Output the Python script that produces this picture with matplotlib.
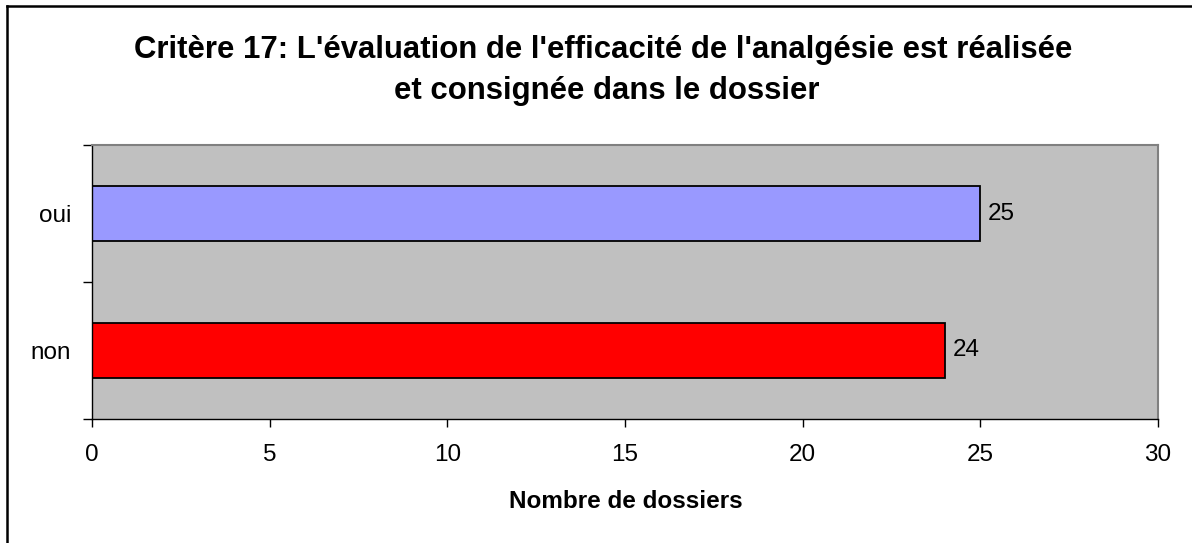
import matplotlib.pyplot as plt
from matplotlib.lines import Line2D
from matplotlib import font_manager as fm

# --- données ---
categories = ["non", "oui"]
values = [24, 25]
bar_colors = ["#FF0000", "#9999FF"]
x_ticks = [0, 5, 10, 15, 20, 25, 30]
title_lines = ["Critère 17: L'évaluation de l'efficacité de l'analgésie est réalisée",
               "et consignée dans le dossier"]

# Liberation Sans (pas la version Narrow)
reg, bold = None, None
for f in fm.fontManager.ttflist:
    fn = f.fname.lower()
    if "liberationsans-regular" in fn:
        reg = f.fname
    if "liberationsans-bold." in fn:
        bold = f.fname
fp_reg = fm.FontProperties(fname=reg) if reg else fm.FontProperties(family="DejaVu Sans")
fp_bold = fm.FontProperties(fname=bold) if bold else fm.FontProperties(family="DejaVu Sans", weight="bold")

fig = plt.figure(figsize=(11.92, 5.43), dpi=100)
W, H = 1192, 543
ax = fig.add_axes([92 / W, 1 - 419 / H, (1158 - 92) / W, (419 - 145) / H])
ax.set_facecolor("#C0C0C0")

pos = list(range(len(categories)))
ax.barh(pos, values, height=0.4, color=bar_colors, edgecolor="black", linewidth=1.3)
for p, v in zip(pos, values):
    ax.text(v + 0.22, p, str(v), va="center", ha="left", fontproperties=fp_reg, fontsize=17.5)

ax.set_xlim(0, 30)
ax.set_ylim(-0.5, 1.5)
ax.set_xticks(x_ticks)
ax.set_xticklabels([str(t) for t in x_ticks], fontproperties=fp_reg, fontsize=17.5)
ax.set_yticks(pos)
ax.set_yticklabels(categories, fontproperties=fp_reg, fontsize=17.5)
ax.tick_params(axis="y", length=0, pad=15)
ax.set_yticks([-0.5, 0.5, 1.5], minor=True)
ax.tick_params(axis="y", which="minor", length=6.5, width=1)
ax.tick_params(axis="x", length=5.8, width=1, pad=12.5)

for s in ["top", "right"]:
    ax.spines[s].set_color("#808080")
    ax.spines[s].set_linewidth(1.5)
for s in ["left", "bottom"]:
    ax.spines[s].set_color("black")
    ax.spines[s].set_linewidth(1)

fig.text(626 / W, 1 - 508 / H, "Nombre de dossiers", ha="center", va="baseline",
         fontproperties=fp_bold, fontsize=17.5)

fig.text(603 / W, 1 - 58 / H, title_lines[0], ha="center", va="baseline",
         fontproperties=fp_bold, fontsize=22.4)
fig.text(607 / W, 1 - 98.5 / H, title_lines[1], ha="center", va="baseline",
         fontproperties=fp_bold, fontsize=22.4)

# cadre du graphique (haut et gauche)
fig.add_artist(Line2D([7 / W, 1], [1 - 6 / H, 1 - 6 / H], color="black", linewidth=1.8, transform=fig.transFigure))
fig.add_artist(Line2D([7 / W, 7 / W], [0, 1 - 6 / H], color="black", linewidth=1.8, transform=fig.transFigure))

fig.savefig("out.png", dpi=100)
